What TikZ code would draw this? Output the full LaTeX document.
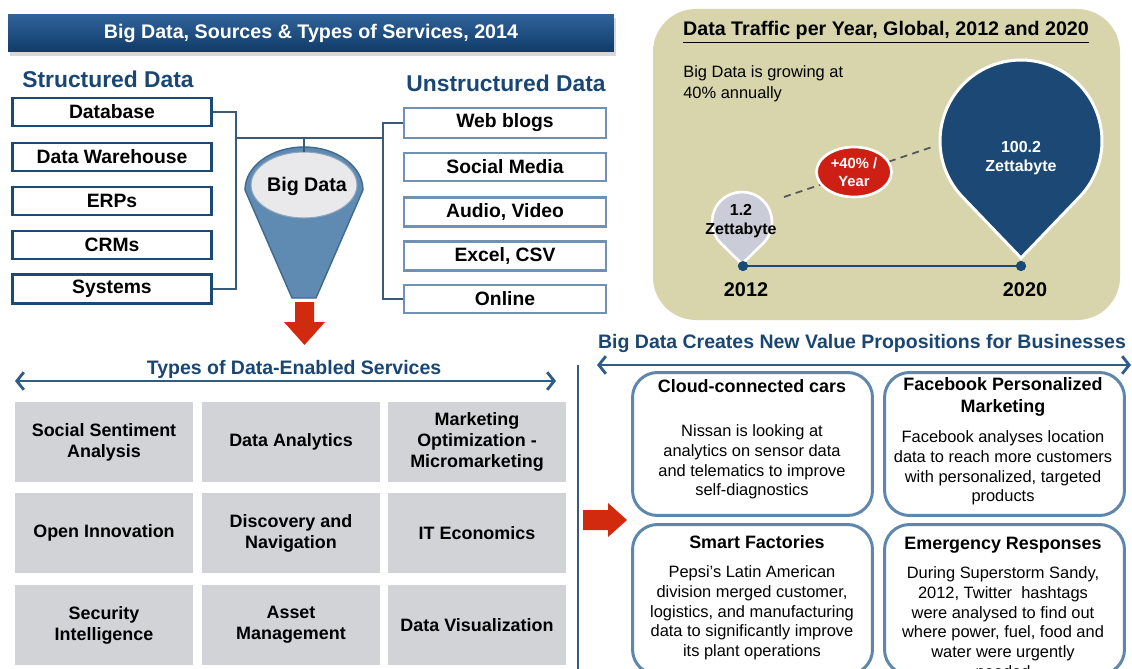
\documentclass[tikz,border=0pt]{standalone}
\usepackage{fontspec}
\setmainfont{Liberation Sans}
\usetikzlibrary{arrows.meta,shapes.geometric,shadows,calc}

\definecolor{hdrtop}{HTML}{30639A}
\definecolor{hdrbot}{HTML}{103B69}
\definecolor{navy}{HTML}{1C4A77}
\definecolor{steel}{HTML}{7090B4}
\definecolor{titleblue}{HTML}{1A4674}
\definecolor{linkcol}{HTML}{3A5A7A}
\definecolor{funnelblue}{HTML}{5F8AB2}
\definecolor{funneledge}{HTML}{40698F}
\definecolor{lightgrey}{HTML}{E9E9EC}
\definecolor{redarrow}{HTML}{D22A0E}
\definecolor{khaki}{HTML}{D8D5AC}
\definecolor{pingrey}{HTML}{CACDD8}
\definecolor{pinblue}{HTML}{1B4874}
\definecolor{redpill}{HTML}{CD1F14}
\definecolor{cellgrey}{HTML}{D1D3D7}
\definecolor{propedge}{HTML}{5F87AE}
\definecolor{arrowblue}{HTML}{2C5D8B}
\definecolor{dashgrey}{HTML}{55585A}

\newcommand{\fsz}[2]{\fontsize{#1}{#2}\selectfont}

\begin{document}
\begin{tikzpicture}
                [x=0.02cm, y=-0.02cm,
                    header/.style={shade, top color=hdrtop, bottom color=hdrbot,
                        minimum width=12.12cm, minimum height=0.76cm, text=white,
                        font=\fsz{11.2pt}{13pt}\bfseries,
                        drop shadow={opacity=0.3, shadow xshift=0.2ex, shadow yshift=-0.4ex}},
                    bigtitle/.style={text=titleblue, font=\fsz{13pt}{15pt}\bfseries},
                    subtitle/.style={text=titleblue, font=\fsz{11.1pt}{13pt}\bfseries},
                    srcbox/.style={draw=navy, line width=1.7pt, fill=white, minimum width=4.0cm,
                        minimum height=0.56cm, font=\fsz{11pt}{13pt}\bfseries},
                    rawbox/.style={srcbox, draw=steel, line width=1.5pt, minimum width=4.04cm},
                    link/.style={draw=linkcol, line width=0.8pt},
                    span/.style={draw=arrowblue, line width=1.1pt,
                        {Straight Barb[length=4pt,width=10pt,line width=1.6pt]}-{Straight Barb[length=4pt,width=10pt,line width=1.6pt]}},
                    svc/.style={fill=cellgrey, minimum width=3.56cm, minimum height=1.6cm,
                        align=center, font=\fsz{10.2pt}{11.9pt}\bfseries},
                    prop/.style={draw=propedge, line width=1.7pt, rounded corners=0.5cm, fill=white,
                        minimum width=4.8cm, minimum height=2.86cm},
                    ptitle/.style={align=center, font=\fsz{10.2pt}{12.5pt}\bfseries},
                    pbody/.style={align=center, font=\fsz{9.35pt}{11.2pt}},
                    pintxt/.style={align=center, font=\fsz{9.1pt}{10.8pt}\bfseries},
                    year/.style={font=\fsz{11.3pt}{13pt}\bfseries},
                    dot/.style={circle, fill=pinblue, inner sep=0pt, minimum size=0.2cm},
                ]
                \useasboundingbox (0,0) rectangle (1132,669);
                \fill[white] (0,0) rectangle (1132,669);

                \node[header] (hdr) at (311,33) {Big Data, Sources \& Types of Services, 2014};
                \node[bigtitle] (stru) at (108,79) {Structured Data};
                \node[bigtitle] (unst) at (506,83) {Unstructured Data};

                \node[srcbox] (db) at (112,112) {Database};
                \node[srcbox] (dw) at (112,157) {Data Warehouse};
                \node[srcbox] (erp) at (112,201) {ERPs};
                \node[srcbox] (crm) at (112,245) {CRMs};
                \node[srcbox] (sys) at (112,289) {Systems};

                \node[rawbox] (web) at (505,123) {Web blogs};
                \node[rawbox] (soc) at (505,167) {Social Media};
                \node[rawbox] (av) at (505,212) {Audio, Video};
                \node[rawbox] (xls) at (505,256) {Excel, CSV};
                \node[rawbox] (onl) at (505,299) {Online};

                \draw[fill=funnelblue, draw=funneledge, line width=0.8pt] (245,190)
                    arc[start angle=180, end angle=0, x radius=1.18cm, y radius=0.86cm]
                    -- (316,298) -- (292,298) -- cycle;
                \draw[fill=lightgrey, draw=funneledge!60, line width=0.6pt] (304,185)
                    ellipse[x radius=1.06cm, y radius=0.66cm];
                \node[font=\fsz{11.2pt}{13pt}\bfseries] (bigd) at (307,186) {Big Data};
                \coordinate (ftop) at (304,152);

                \coordinate (lj) at (236,138);
                \coordinate (rj) at (383,138);
                \draw[link] (db.east) -| (lj) |- (sys.east);
                \draw[link] (lj) -- (rj);
                \draw[link] (web.west) -| (rj) |- (onl.west);
                \draw[link] (ftop) -- (ftop |- lj);

                \fill[redarrow] (295,302) -- (314,302) -- (314,322) -- (325,322) -- (304.5,345)
                    -- (284,322) -- (295,322) -- cycle;

                \node[subtitle] (svct) at (294,369) {Types of Data-Enabled Services};
                \coordinate (sl) at (15,381);
                \coordinate (sr) at (556,381);
                \draw[span] (sl) -- (sr);

                \node[svc] (ssa) at (104,442) {Social Sentiment\\Analysis};
                \node[svc] (dan) at (291,442) {Data Analytics};
                \node[svc] (mkt) at (477,442) {Marketing\\Optimization -\\Micromarketing};
                \node[svc] (opi) at (104,533) {Open Innovation};
                \node[svc] (dnv) at (291,533) {Discovery and\\Navigation};
                \node[svc] (ite) at (477,533) {IT Economics};
                \node[svc] (sec) at (104,625) {Security\\Intelligence};
                \node[svc] (ast) at (291,625) {Asset\\Management};
                \node[svc] (dvz) at (477,625) {Data Visualization};

                \coordinate (vt) at (578,365);
                \coordinate (vb) at (578,669);
                \draw[link, line width=0.7pt] (vt) -- (vb);

                \fill[redarrow] (583,510) -- (608,510) -- (608,503) -- (627,520) -- (608,537)
                    -- (608,530) -- (583,530) -- cycle;

                \node[subtitle] (valt) at (862,343) {Big Data Creates New Value Propositions for Businesses};
                \coordinate (vl) at (597,365);
                \coordinate (vr) at (1131,365);
                \draw[span] (vl) -- (vr);

                \node[prop] (cars) at (752.5,444) {};
                \node[prop] (fb) at (1004.5,444) {};
                \node[prop, minimum height=3.0cm] (fac) at (752.5,599.5) {};
                \node[prop, minimum height=3.0cm] (emg) at (1004.5,599.5) {};

                \node[ptitle] (carst) at (752,386) {Cloud-connected cars};
                \node[pbody] (carsb) at (752,462) {Nissan is looking at\\analytics on sensor data\\and telematics to improve\\self-diagnostics};
                \node[ptitle] (fbt) at (1003,397) {Facebook Personalized\\Marketing};
                \node[pbody] (fbb) at (1003,468) {Facebook analyses location\\data to reach more customers\\with personalized, targeted\\products};
                \node[ptitle] (fact) at (757,542) {Smart Factories};
                \node[pbody] (facb) at (752,613) {Pepsi's Latin American\\division merged customer,\\logistics, and manufacturing\\data to significantly improve\\its plant operations};
                \node[ptitle] (emgt) at (1003,545) {Emergency Responses};
                \node[pbody] (emgb) at (1003,622) {During Superstorm Sandy,\\2012, Twitter\ \ hashtags\\were analysed to find out\\where power, fuel, food and\\water were urgently\\needed};

                \fill[khaki, rounded corners=0.86cm] (653,9) rectangle (1120,320);
                \node[font=\fsz{11.2pt}{13pt}\bfseries] (trt) at (886,32) {\underline{Data Traffic per Year, Global, 2012 and 2020}};
                \node[anchor=west, align=left, inner sep=0pt, font=\fsz{9.35pt}{11.9pt}] (grow) at (683,84) {Big Data is growing at\\40\% annually};

                \coordinate (da) at (784,197);
                \coordinate (dz) at (935,146);
                \draw[dashgrey, line width=1pt, dash pattern=on 4pt off 3pt] (da) -- (dz);

                \node[dot] (d12) at (743,266) {};
                \node[dot] (d20) at (1021,266) {};
                \draw[pinblue, line width=1.2pt] (d12) -- (d20);

                \draw[fill=pingrey, draw=white, line width=1.5pt] (742,264)
                    -- ($(742,222)+(-44.4:0.6cm)$) arc[start angle=-44.4, end angle=224.4, radius=0.6cm] -- cycle;
                \draw[fill=pinblue, draw=white, line width=1.7pt] (1021,258)
                    -- ($(1021,141)+(-43.8:1.62cm)$) arc[start angle=-43.8, end angle=223.8, radius=1.62cm] -- cycle;
                \node[dot] at (d12) {};
                \node[dot] at (d20) {};

                \node[ellipse, fill=redpill, draw=white, line width=1.5pt, minimum width=1.5cm,
                    minimum height=1.0cm, inner sep=0pt, text=white, align=center,
                    font=\fsz{8.4pt}{10.2pt}\bfseries] (rate) at (854,172) {+40\% /\\Year};

                \node[pintxt] (z12) at (741,221) {1.2\\Zettabyte};
                \node[pintxt, text=white] (z20) at (1021,158) {100.2\\Zettabyte};
                \node[year] (y12) at (746,290) {2012};
                \node[year] (y20) at (1025,290) {2020};
            \end{tikzpicture}
\end{document}
